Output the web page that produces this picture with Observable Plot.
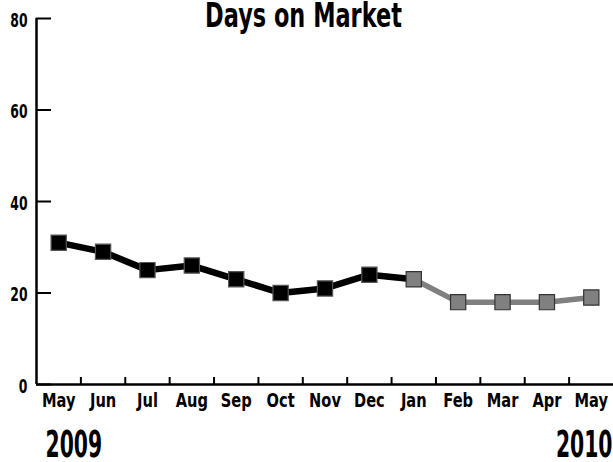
<!DOCTYPE html>
<html>
<head>
<meta charset="utf-8">
<script src="https://cdn.jsdelivr.net/npm/d3@7"></script>
<script src="https://cdn.jsdelivr.net/npm/@observablehq/plot@0.6"></script>
<style>
  html, body { margin: 0; padding: 0; background: #fff; }
</style>
</head>
<body>
<div id="chart"></div>
<script>
const title = "Days on Market";
const months = ["May","Jun","Jul","Aug","Sep","Oct","Nov","Dec","Jan","Feb","Mar","Apr","May"];
const values = [31, 29, 25, 26, 23, 20, 21, 24, 23, 18, 18, 18, 19];
const splitIndex = 8; // Jan 2010: start of the gray (later) segment
const yTicks = [0, 20, 40, 60, 80];
const startYear = "2009";
const endYear = "2010";

const data = values.map((v, i) => ({i, v, late: i >= splitIndex}));
const early = data.filter(d => d.i <= splitIndex);
const late = data.filter(d => d.i >= splitIndex);
const idx = months.map((m, i) => i);
const between = months.slice(1).map((m, i) => i + 0.5);

const font = "'DejaVu Sans', sans-serif";
// horizontal condensing per font size (to imitate a condensed face)
const squeeze = {33: 0.68, 37: 0.55, 20: 0.62, 19: 0.77};

const chart = Plot.plot({
  width: 613,
  height: 462,
  marginLeft: 36,
  marginRight: 0,
  marginTop: 18,
  marginBottom: 78,
  style: {fontFamily: font, fontWeight: "bold", color: "#000", background: "#fff", overflow: "visible"},
  x: {type: "linear", domain: [-0.5, months.length - 0.5], axis: null},
  y: {type: "linear", domain: [0, 80], axis: null},
  marks: [
    Plot.ruleY(yTicks, {stroke: "#000", strokeWidth: 2, insetRight: 577 - 15}),
    Plot.ruleX(between, {stroke: "#000", strokeWidth: 2, insetTop: 366 - 7}),
    Plot.ruleX([-0.5], {stroke: "#000", strokeWidth: 2.5}),
    Plot.ruleY([0], {stroke: "#000", strokeWidth: 2.5}),
    Plot.axisY({ticks: yTicks, tickSize: 0, tickPadding: 9, fontSize: 20, dy: 2, anchor: "left", label: null}),
    Plot.axisX({ticks: idx, tickSize: 0, tickPadding: 9, fontSize: 19, tickFormat: i => months[i], anchor: "bottom", label: null}),
    Plot.line(late, {x: "i", y: "v", stroke: "#808080", strokeWidth: 5.5}),
    Plot.line(early, {x: "i", y: "v", stroke: "#000", strokeWidth: 6.5}),
    Plot.dot(data, {x: "i", y: "v", symbol: "square", r: 8.6,
      fill: d => d.late ? "#808080" : "#000",
      stroke: d => d.late ? "#333" : "#555", strokeWidth: 1.2}),
    Plot.text([title], {frameAnchor: "top", lineAnchor: "middle", dx: -21.5, dy: -2, fontSize: 33, fill: "#000"}),
    Plot.text([startYear], {frameAnchor: "bottom-left", textAnchor: "start", lineAnchor: "middle", dx: 9, dy: 61, fontSize: 37, fill: "#000"}),
    Plot.text([endYear], {frameAnchor: "bottom-right", textAnchor: "end", lineAnchor: "middle", dx: -1, dy: 61, fontSize: 37, fill: "#000"})
  ]
});

chart.querySelectorAll("text").forEach(t => {
  const g = t.closest("[font-size]");
  const fs = g ? parseFloat(g.getAttribute("font-size")) : NaN;
  const s = squeeze[fs];
  if (!s) return;
  const tr = t.getAttribute("transform");
  if (tr) t.setAttribute("transform", tr + ` scale(${s},1)`);
  else {
    const x = parseFloat(t.getAttribute("x") || 0), y = parseFloat(t.getAttribute("y") || 0);
    t.setAttribute("transform", `translate(${x},${y}) scale(${s},1)`);
    t.removeAttribute("x"); t.removeAttribute("y");
  }
});
document.getElementById("chart").appendChild(chart);
</script>
</body>
</html>
